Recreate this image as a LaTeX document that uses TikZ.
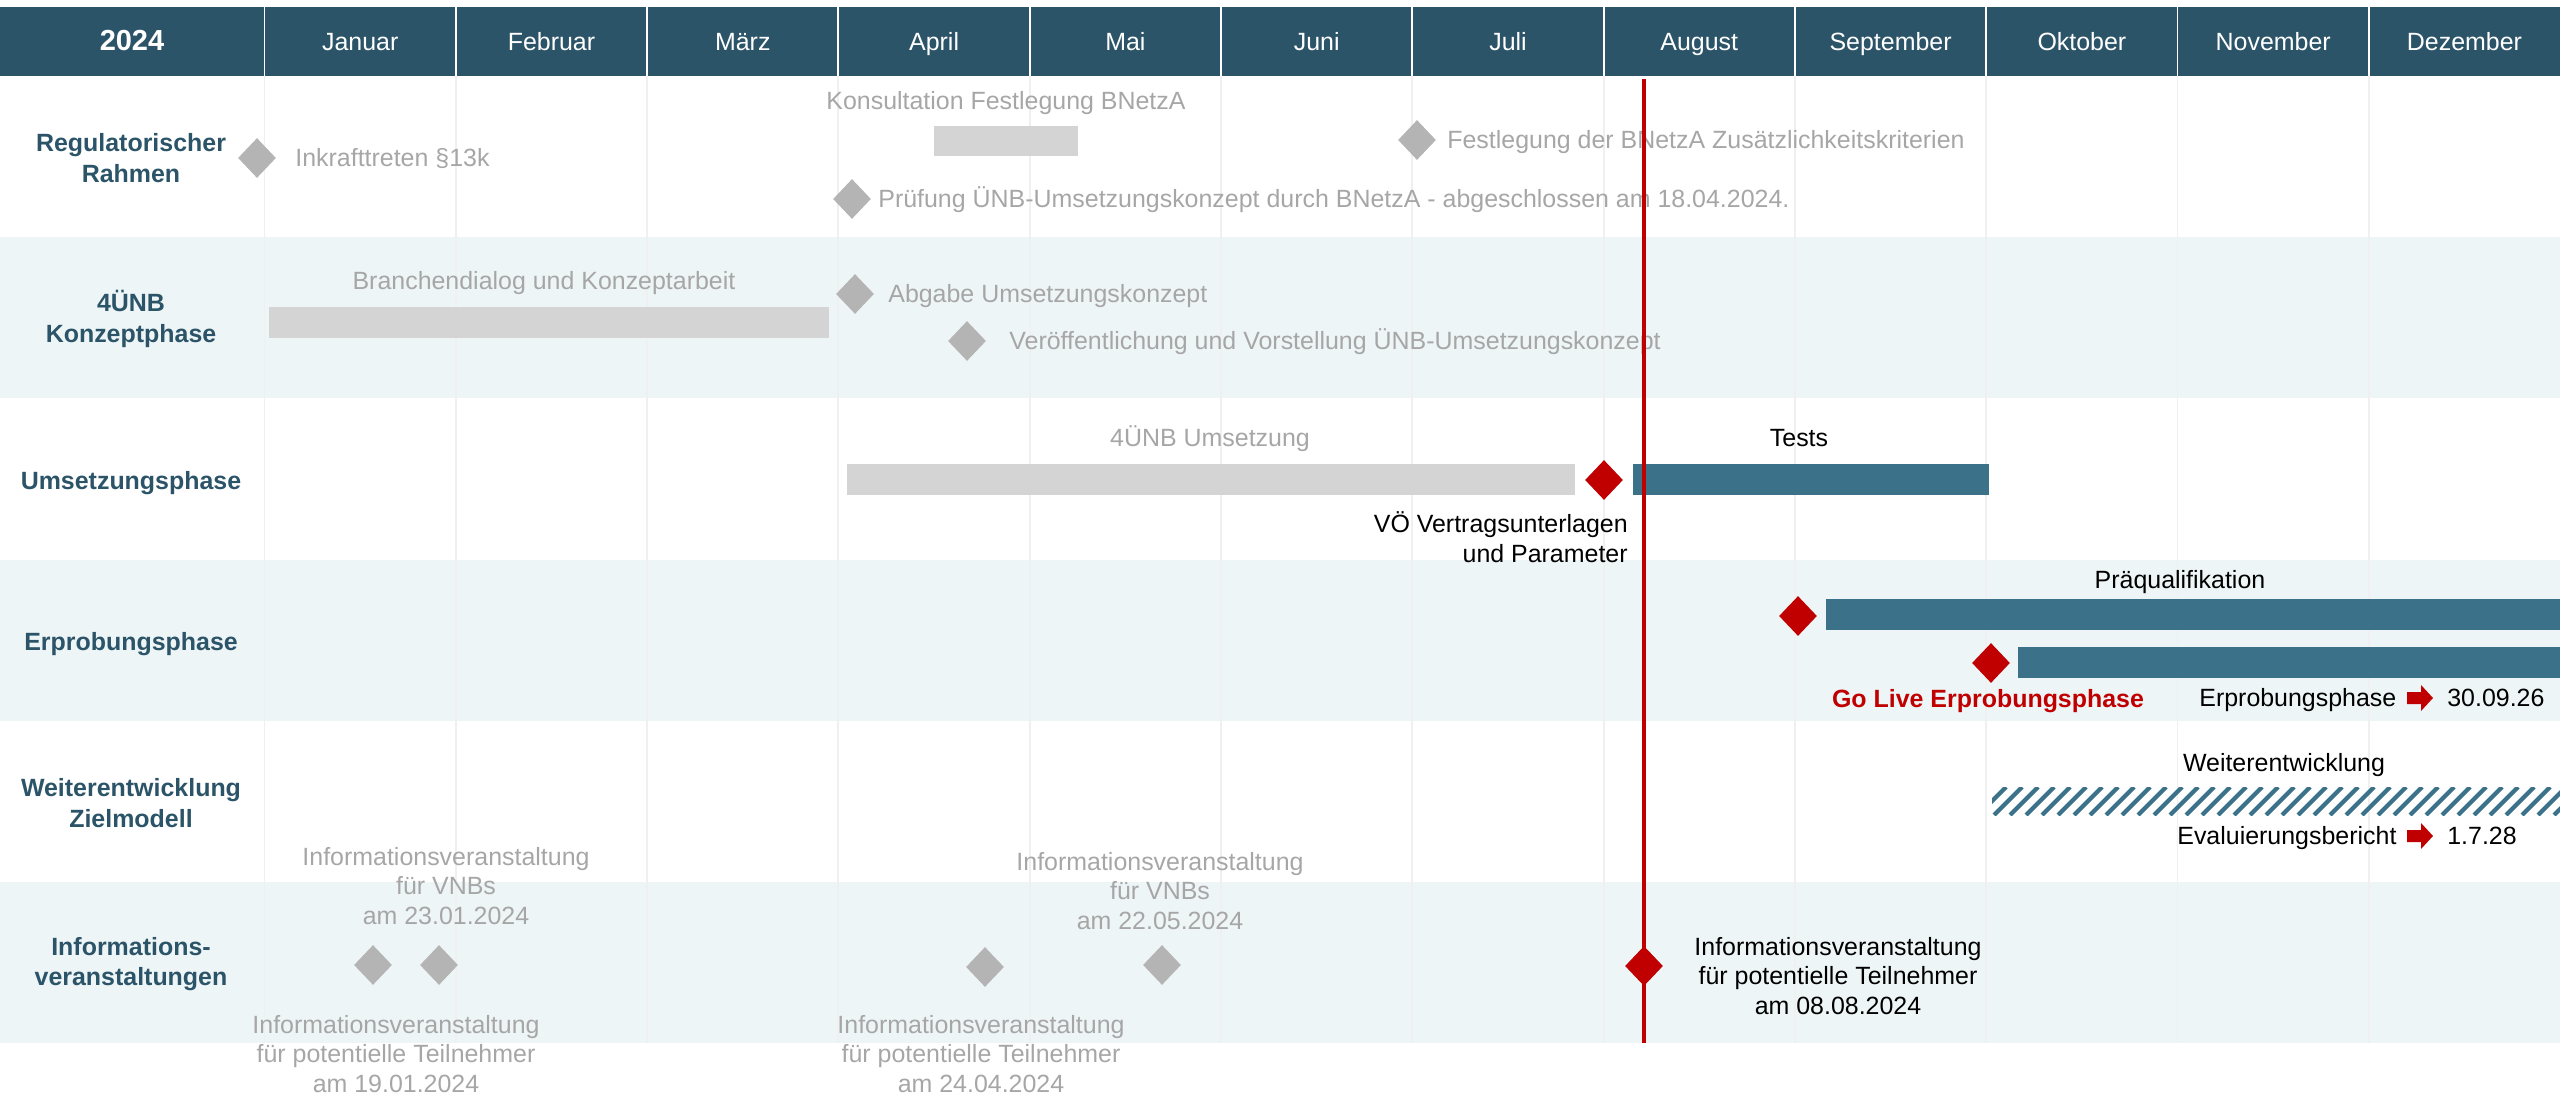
\documentclass[tikz,border=0pt]{standalone}
\usepackage{fontspec}
\setmainfont{Liberation Sans}
\usetikzlibrary{shapes.geometric}
\definecolor{kopf}{HTML}{2C5468}
\definecolor{balken}{HTML}{3B7289}
\definecolor{zeile}{HTML}{EEF5F7}
\definecolor{gitter}{HTML}{F0F0F0}
\definecolor{grautext}{HTML}{A6A6A6}
\definecolor{graubalken}{HTML}{D4D4D4}
\definecolor{graudia}{HTML}{B4B4B4}
\definecolor{rot}{HTML}{C00000}
\begin{document}
\begin{tikzpicture}[x=0.02cm,y=-0.02cm,
	txt/.style={font=\fontsize{14.2}{17}\selectfont,inner sep=0pt,align=center},
	eine/.style={text height=0.95em,text depth=0pt},
	grau/.style={txt,text=grautext},
	phase/.style={txt,font=\fontsize{14.2}{17.4}\selectfont\bfseries,text=kopf},
	gdia/.style={diamond,fill=graudia,inner sep=0pt,minimum width=0.76cm,minimum height=0.8cm},
	rdia/.style={gdia,fill=rot}]
	\useasboundingbox (0,0) rectangle (2560,1101);
	% Kopfzeile
	\fill[kopf] (0,7) rectangle (2560,76);
	\node[txt,eine,text=white,font=\fontsize{16.5}{20}\selectfont\bfseries] (jahr) at (132,42) {2024};
	\foreach \m [count=\i from 0] in {Januar,Februar,März,April,Mai,Juni,Juli,August,September,Oktober,November,Dezember}{
		\draw[white,line width=1.1pt] (264.5+\i*191.3,7) -- (264.5+\i*191.3,76);
		\node[txt,eine,text=white] (m\i) at (360.2+\i*191.3,42) {\m};
	}
	% Zeilen
	\fill[zeile] (0,237) rectangle (2560,398);
	\fill[zeile] (0,560) rectangle (2560,721);
	\fill[zeile] (0,882) rectangle (2560,1043);
	\foreach \i in {0,...,11}
		\draw[gitter,line width=1.1pt] (264.5+\i*191.3,76) -- (264.5+\i*191.3,1043);
	\node[phase] (p1) at (131,158) {Regulatorischer\\Rahmen};
	\node[phase] (p2) at (131,319) {4ÜNB\\Konzeptphase};
	\node[phase,eine] (p3) at (131,481) {Umsetzungsphase};
	\node[phase,eine] (p4) at (131,642) {Erprobungsphase};
	\node[phase] (p5) at (131,803) {Weiterentwicklung\\Zielmodell};
	\node[phase] (p6) at (131,964) {Informations-\\veranstaltungen};

	% Regulatorischer Rahmen
	\node[gdia] (inkraft) at (257,158) {};
	\node[grau,eine,anchor=west] (tinkraft) at (295,158) {Inkrafttreten §13k};
	\node[grau,eine] (tkons) at (1006,101) {Konsultation Festlegung BNetzA};
	\fill[graubalken] (934,126) rectangle (1078,156);
	\node[gdia] (fest) at (1417,140) {};
	\node[grau,eine,anchor=west] (tfest) at (1447,140) {Festlegung der BNetzA Zusätzlichkeitskriterien};
	\node[gdia] (pruef) at (852,199) {};
	\node[grau,eine,anchor=west] (tpruef) at (878,199) {Prüfung ÜNB-Umsetzungskonzept durch BNetzA - abgeschlossen am 18.04.2024.};

	% 4ÜNB Konzeptphase
	\node[grau,eine] (tbranche) at (544,281) {Branchendialog und Konzeptarbeit};
	\fill[graubalken] (269,307) rectangle (829,338);
	\node[gdia] (abgabe) at (855,294) {};
	\node[grau,eine,anchor=west] (tabgabe) at (888,294) {Abgabe Umsetzungskonzept};
	\node[gdia] (veroeff) at (967,341) {};
	\node[grau,eine,anchor=west] (tveroeff) at (1009,341) {Veröffentlichung und Vorstellung ÜNB-Umsetzungskonzept};

	% Umsetzungsphase
	\node[grau,eine] (tumsetz) at (1210,438) {4ÜNB Umsetzung};
	\fill[graubalken] (847,464) rectangle (1575,495);
	\node[rdia] (voe) at (1604,480) {};
	\fill[balken] (1633,464) rectangle (1989,495);
	\node[txt,eine] (ttests) at (1799,438) {Tests};
	\node[txt,align=right,anchor=east] (tvoe) at (1628,537) {VÖ Vertragsunterlagen\\und Parameter};

	% Erprobungsphase
	\node[rdia] (praequ) at (1798,616) {};
	\fill[balken] (1826,599) rectangle (2560,630);
	\node[txt,eine] (tpraequ) at (2180,580) {Präqualifikation};
	\node[rdia] (golive) at (1991,663) {};
	\fill[balken] (2018,647) rectangle (2560,678);
	\node[txt,eine,font=\fontsize{14.2}{17}\selectfont\bfseries,text=rot] (tgolive) at (1988,699) {Go Live Erprobungsphase};
	\node[txt,eine,anchor=west] (terprob) at (2199,698) {Erprobungsphase};
	\fill[rot] (2407,692) -- (2421,692) -- (2421,685) -- (2433,698) -- (2421,711) -- (2421,704) -- (2407,704) -- cycle;
	\node[txt,eine,anchor=west] (tende) at (2447,698) {30.09.26};

	% Weiterentwicklung Zielmodell
	\node[txt,eine] (tweiter) at (2284,763) {Weiterentwicklung};
	\begin{scope}
		\clip (1992,787) rectangle (2560,815);
		\foreach \x in {1962,1978,...,2570}
			\draw[balken,line width=2.4pt] (\x,815) -- (\x+28,787);
	\end{scope}
	\node[txt,eine,anchor=west] (teval) at (2177,836) {Evaluierungsbericht};
	\fill[rot] (2407,830) -- (2421,830) -- (2421,823) -- (2433,836) -- (2421,849) -- (2421,842) -- (2407,842) -- cycle;
	\node[txt,eine,anchor=west] (teval2) at (2447,836) {1.7.28};

	% Informationsveranstaltungen
	\node[gdia] (iv1) at (373,965) {};
	\node[gdia] (iv2) at (439,965) {};
	\node[gdia] (iv3) at (985,967) {};
	\node[gdia] (iv4) at (1162,965) {};
	\node[grau] (tiv2) at (446,886) {Informationsveranstaltung\\für VNBs\\am 23.01.2024};
	\node[grau] (tiv1) at (396,1054) {Informationsveranstaltung\\für potentielle Teilnehmer\\am 19.01.2024};
	\node[grau] (tiv3) at (981,1054) {Informationsveranstaltung\\für potentielle Teilnehmer\\am 24.04.2024};
	\node[grau] (tiv4) at (1160,891) {Informationsveranstaltung\\für VNBs\\am 22.05.2024};
	\node[txt] (tiv5) at (1838,976) {Informationsveranstaltung\\für potentielle Teilnehmer\\am 08.08.2024};

	% heute
	\draw[rot,line width=2.3pt] (1644,79) -- (1644,1043);
	\node[rdia] (iv5) at (1644,966) {};
\end{tikzpicture}
\end{document}
